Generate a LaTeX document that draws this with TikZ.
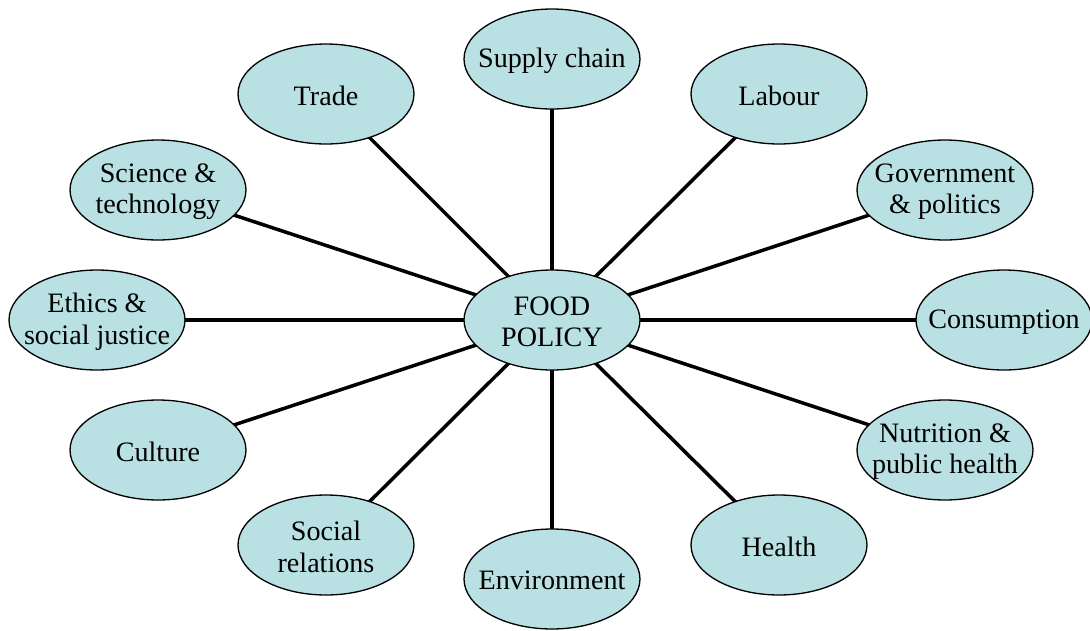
\documentclass[tikz,border=0pt]{standalone}
\usepackage{fontspec}
\setmainfont{Liberation Serif}
\usepackage{tikz}
\usetikzlibrary{shapes.geometric}
\usetikzlibrary{backgrounds}
\definecolor{topicfill}{RGB}{185,224,227}

\begin{document}
\begin{tikzpicture}[x=0.02cm,y=-0.02cm,
  topic/.style={ellipse,draw,line width=0.75pt,fill=topicfill,minimum width=3.52cm,minimum height=2cm,inner sep=0pt,
    label={[align=center,inner sep=0pt,yshift=-1pt,font=\fontsize{16}{18}\selectfont]center:#1}},
  link/.style={line width=2pt}]

\useasboundingbox (0,0) rectangle (1090,630);

\node [topic={FOOD\\POLICY}] (food) at (552,320) {};
\node [topic={Supply chain}] (supply) at (552,59) {};
\node [topic={Labour}] (labour) at (779,94) {};
\node [topic={Government\\\& politics}] (govern) at (945,190) {};
\node [topic={Consumption}] (consum) at (1004,320) {};
\node [topic={Nutrition \&\\public health}] (nutri) at (945,450) {};
\node [topic={Health}] (health) at (779,545) {};
\node [topic={Environment}] (environ) at (552,579) {};
\node [topic={Social\\relations}] (social) at (326,545) {};
\node [topic={Culture}] (culture) at (158,450) {};
\node [topic={Ethics \&\\social justice}] (ethics) at (97,320) {};
\node [topic={Science \&\\technology}] (science) at (158,190) {};
\node [topic={Trade}] (trade) at (326,94) {};

\begin{scope}[on background layer]
\draw [link] (food.center) -- (supply.center);
\draw [link] (food.center) -- (labour.center);
\draw [link] (food.center) -- (govern.center);
\draw [link] (food.center) -- (consum.center);
\draw [link] (food.center) -- (nutri.center);
\draw [link] (food.center) -- (health.center);
\draw [link] (food.center) -- (environ.center);
\draw [link] (food.center) -- (social.center);
\draw [link] (food.center) -- (culture.center);
\draw [link] (food.center) -- (ethics.center);
\draw [link] (food.center) -- (science.center);
\draw [link] (food.center) -- (trade.center);
\end{scope}

\end{tikzpicture}
\end{document}
